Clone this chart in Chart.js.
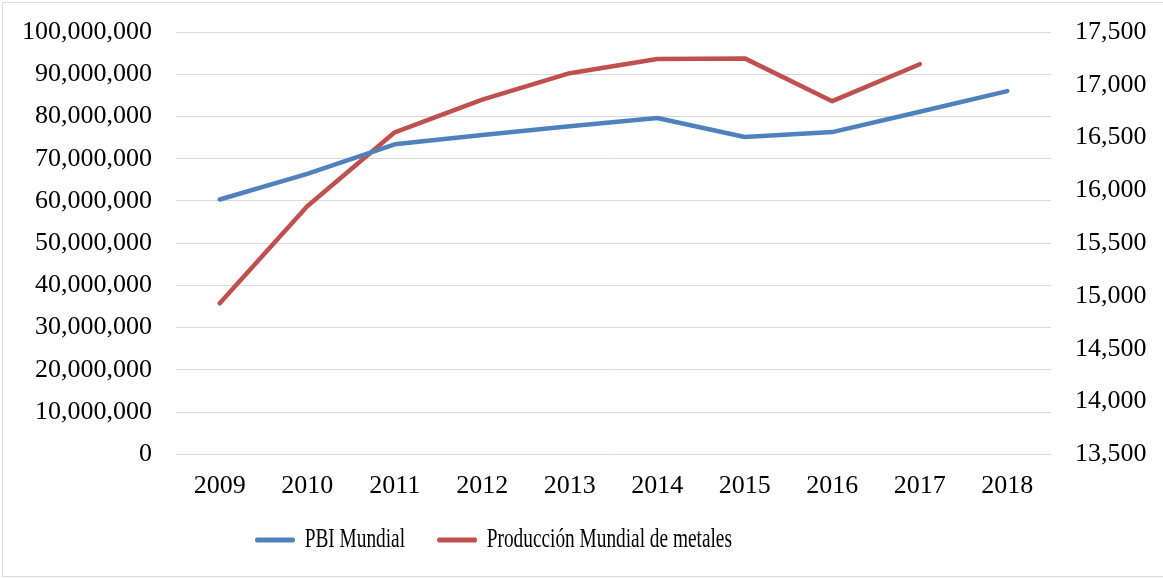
<!DOCTYPE html>
<html>
<head>
<meta charset="utf-8">
<script src="https://cdn.jsdelivr.net/npm/chart.js@4/dist/chart.umd.min.js"></script>
<style>
  html, body { margin: 0; padding: 0; background: #ffffff; }
  #wrap { position: relative; width: 1163px; height: 578px; }
</style>
</head>
<body>
<div id="wrap"><canvas id="c" width="1163" height="578"></canvas></div>
<script>
const categories = ['2009','2010','2011','2012','2013','2014','2015','2016','2017','2018'];
const pbiMundial = [60340000, 66400000, 73400000, 75600000, 77700000, 79650000, 75150000, 76300000, 81100000, 86000000];
const produccionMetales = [14930, 15850, 16550, 16860, 17110, 17245, 17250, 16845, 17195, null];
const seriesNames = ['PBI Mundial', 'Producción Mundial de metales'];
const leftTicks = { min: 0, max: 100000000, step: 10000000 };
const rightTicks = { min: 13500, max: 17500, step: 500 };

const FONT = 'Liberation Serif, "Times New Roman", serif';
const fmt = v => Number(v).toLocaleString('en-US');

// legend text in the original is horizontally condensed
const LEG_SX = 0.69, LEG_START = 255, LEG_PAD = 46.4, LEG_FONT = 28, LEG_CY = 540;

const frame = {
  id: 'frame',
  beforeDraw(chart) {
    const ctx = chart.ctx;
    ctx.save();
    ctx.fillStyle = '#ffffff';
    ctx.fillRect(0, 0, chart.width, chart.height);
    ctx.strokeStyle = '#D9D9D9';
    ctx.lineWidth = 1;
    ctx.strokeRect(2.5, 2.5, 1170, 574);
    ctx.restore();
  }
};
const condensedLegend = {
  id: 'condensedLegend',
  afterLayout(chart) {
    const lg = chart.legend;
    if (!lg || lg._condensed) return;
    const orig = lg.draw.bind(lg);
    lg.draw = function () {
      const ctx = this.ctx;
      ctx.save();
      const dy = LEG_CY - (this.top + LEG_PAD + LEG_FONT / 2);
      ctx.translate(LEG_START - (this.left + LEG_PAD) * LEG_SX, dy);
      ctx.scale(LEG_SX, 1);
      orig();
      ctx.restore();
    };
    lg._condensed = true;
  }
};
const noVPad = s => { s.paddingTop = 0; s.paddingBottom = 0; };

new Chart(document.getElementById('c'), {
  type: 'line',
  data: {
    labels: categories,
    datasets: [
      { label: seriesNames[0], data: pbiMundial, yAxisID: 'y', borderColor: '#4F81BD', backgroundColor: '#4F81BD',
        borderWidth: 4.5, pointRadius: 0, pointHoverRadius: 0, tension: 0, borderCapStyle: 'round', borderJoinStyle: 'round' },
      { label: seriesNames[1], data: produccionMetales, yAxisID: 'y1', borderColor: '#C0504D', backgroundColor: '#C0504D',
        borderWidth: 4.5, pointRadius: 0, pointHoverRadius: 0, tension: 0, borderCapStyle: 'round', borderJoinStyle: 'round', spanGaps: false }
    ]
  },
  options: {
    responsive: false,
    animation: false,
    devicePixelRatio: 1,
    layout: { padding: { top: 32, left: 0, right: 0, bottom: 0 } },
    scales: {
      x: {
        offset: true,
        grid: { display: false, drawTicks: false },
        border: { display: false },
        ticks: { color: '#000', font: { family: FONT, size: 26 }, padding: 16.4, maxRotation: 0, autoSkip: false },
        afterFit(s) { s.height = 48.7; }
      },
      y: {
        position: 'left',
        min: leftTicks.min, max: leftTicks.max,
        grid: { color: '#D9D9D9', lineWidth: 1, drawTicks: false },
        border: { display: false },
        ticks: { stepSize: leftTicks.step, color: '#000', font: { family: FONT, size: 26 }, padding: 24, callback: v => fmt(v) },
        afterFit(s) { s.width = 176; noVPad(s); }
      },
      y1: {
        position: 'right',
        min: rightTicks.min, max: rightTicks.max,
        grid: { drawOnChartArea: false, drawTicks: false },
        border: { display: false },
        ticks: { stepSize: rightTicks.step, color: '#000', font: { family: FONT, size: 26 }, padding: 24, callback: v => fmt(v) },
        afterFit(s) { s.width = 112; noVPad(s); }
      }
    },
    plugins: {
      tooltip: { enabled: false },
      legend: {
        position: 'bottom',
        align: 'start',
        maxHeight: 75,
        labels: {
          color: '#000',
          font: { family: FONT, size: LEG_FONT },
          boxWidth: 58,
          boxHeight: 5,
          padding: LEG_PAD,
          useBorderRadius: true,
          borderRadius: 2.5,
          generateLabels(chart) {
            return chart.data.datasets.map((d, i) => ({
              text: d.label, fillStyle: d.borderColor, strokeStyle: d.borderColor, lineWidth: 0,
              hidden: false, datasetIndex: i, fontColor: '#000', borderRadius: 2.5
            }));
          }
        }
      }
    }
  },
  plugins: [frame, condensedLegend]
});
</script>
</body>
</html>
